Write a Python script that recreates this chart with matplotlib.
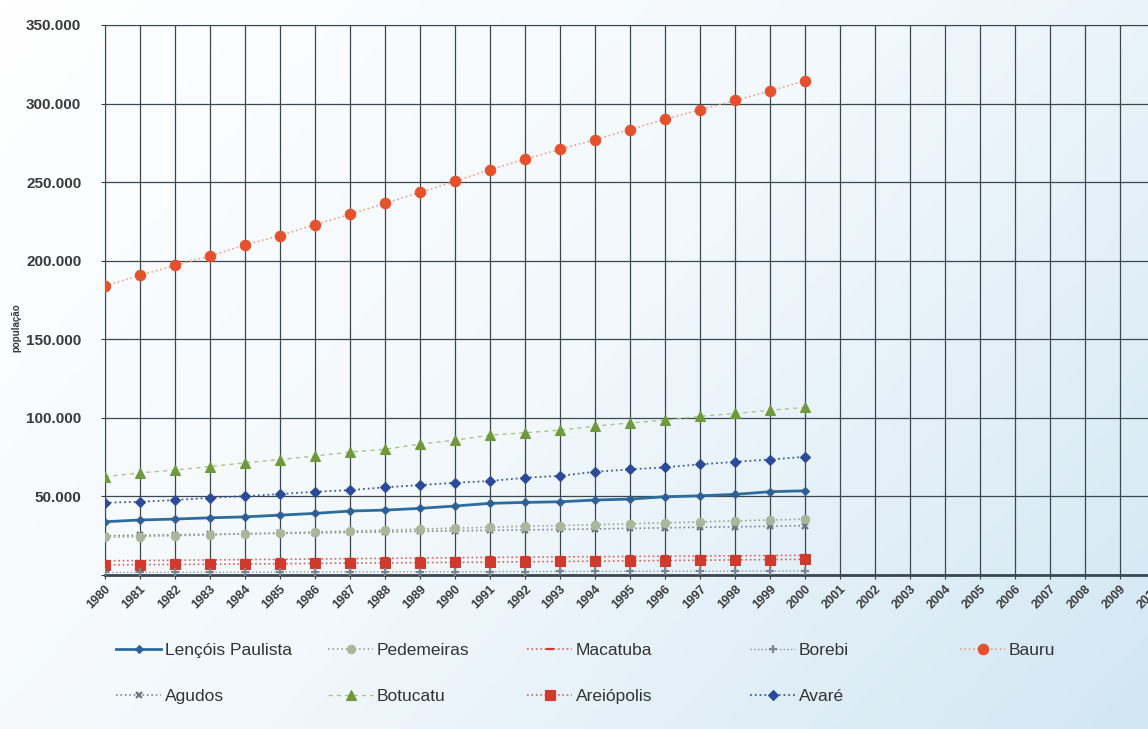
"""Population of the Bauru-region municipalities, 1980-2000, on a 1980-2010 axis."""
import numpy as np
import matplotlib
matplotlib.use("Agg")
import matplotlib.pyplot as plt
from matplotlib.colors import LinearSegmentedColormap
from matplotlib.ticker import FuncFormatter

plt.rcParams["font.family"] = ["Liberation Sans", "DejaVu Sans"]

INK, GRIDC = "#3a3a3a", "#3a4852"

years = list(range(1980, 2001))
axis_years = list(range(1980, 2011))

bauru = [184000, 190700, 197000, 203000, 210000, 216000, 223000, 229500, 236500, 243500,
         250500, 258000, 264500, 271000, 277000, 283500, 290000, 296000, 302000, 308000, 314500]
botucatu = [62500, 65000, 66800, 69000, 71400, 73500, 75700, 78200, 80000, 83300,
            85800, 89000, 90500, 92200, 94700, 96800, 98500, 101000, 102800, 104900, 106600]
avare = [46000, 46600, 47700, 49100, 50200, 51500, 53000, 54000, 55800, 57200,
         58700, 59800, 61900, 63100, 65700, 67200, 68500, 70400, 72000, 73500, 75200]
lencois = [33900, 35000, 35600, 36400, 37000, 38100, 39200, 40700, 41300, 42400,
           43900, 45600, 46200, 46600, 47700, 48300, 49800, 50400, 51300, 53000, 53600]
pedemeiras = [24000, 24500, 25000, 25600, 26200, 26800, 27400, 28000, 28600, 29200,
              29800, 30400, 31000, 31500, 32000, 32600, 33200, 33800, 34400, 35000, 35600]
agudos = [25000, 25300, 25600, 25900, 26200, 26500, 26800, 27200, 27500, 27800,
          28100, 28400, 28700, 29000, 29300, 29700, 30000, 30400, 30700, 31000, 31400]
macatuba = [9000, 9200, 9400, 9600, 9800, 10000, 10200, 10400, 10600, 10800,
            11000, 11200, 11400, 11500, 11700, 11800, 12000, 12100, 12200, 12400, 12500]
areiopolis = [6500, 6600, 6700, 6900, 7000, 7200, 7400, 7600, 7700, 7900,
              8000, 8200, 8400, 8600, 8800, 9000, 9200, 9400, 9600, 9800, 10000]
borebi = [1600, 1650, 1700, 1750, 1800, 1850, 1900, 1950, 2000, 2050,
          2100, 2150, 2200, 2250, 2300, 2350, 2400, 2450, 2500, 2550, 2600]

y_ticks = [0, 50000, 100000, 150000, 200000, 250000, 300000, 350000]

# name, values, line colour, line style, width, marker, marker face, marker size
series = [
    ("Lençóis Paulista", lencois, "#2f6c9e", "-", 2.0, "D", "#2f5f95", 4.5),
    ("Agudos", agudos, "#7d8790", ":", 1.2, "x", "#6c7680", 5),
    ("Pedemeiras", pedemeiras, "#9aa88c", ":", 1.2, "o", "#a9b79a", 6),
    ("Botucatu", botucatu, "#a9c48a", (0, (3, 3)), 1.0, "^", "#6f9a3b", 6.5),
    ("Macatuba", macatuba, "#e0605a", ":", 1.2, "_", "#d23c2f", 6),
    ("Areiópolis", areiopolis, "#d8605a", ":", 1.2, "s", "#cf3a2d", 7.5),
    ("Borebi", borebi, "#8a96a0", ":", 1.0, "+", "#7a8690", 6),
    ("Avaré", avare, "#3d5a9e", ":", 1.3, "D", "#2c4a9a", 5),
    ("Bauru", bauru, "#f0a080", ":", 1.2, "o", "#e5512c", 7.5),
]

fig = plt.figure(figsize=(11.48, 7.29), dpi=100)

# soft white -> light blue wash behind everything
bg = fig.add_axes([0, 0, 1, 1], zorder=-10)
gx, gy = np.meshgrid(np.linspace(0, 1, 300), np.linspace(1, 0, 200))
wash = np.clip(0.05 + 0.6 * gx + 0.35 * (1 - gy), 0, 1)
cmap = LinearSegmentedColormap.from_list("wash", ["#ffffff", "#f2f8fc", "#d2e7f3"])
bg.imshow(wash, cmap=cmap, aspect="auto", extent=[0, 1, 0, 1], origin="upper")
bg.axis("off")

ax = fig.add_axes([105 / 1148, 154 / 729, 1050 / 1148, 550 / 729])
ax.patch.set_alpha(0)
ax.set_xlim(1980, 2010)
ax.set_ylim(0, 350000)

for name, vals, lc, ls, lw, mk, mf, ms in series:
    ax.plot(years, vals, color=lc, linestyle=ls, linewidth=lw, marker=mk,
            markerfacecolor=mf, markeredgecolor=mf,
            markeredgewidth=1.6 if mk in "x+_" else 0.8, markersize=ms,
            label=name, zorder=3)

ax.set_xticks(axis_years)
ax.set_xticklabels([str(y) for y in axis_years], rotation=45, ha="right",
                   rotation_mode="anchor", fontsize=9, color=INK, fontweight="bold")
ax.set_yticks(y_ticks)
ax.yaxis.set_major_formatter(FuncFormatter(
    lambda v, p: "" if v == 0 else f"{int(v):,}".replace(",", ".")))
ax.tick_params(axis="y", labelsize=11, colors=INK, length=3, pad=14)
for t in ax.get_yticklabels():
    t.set_fontweight("bold")
ax.tick_params(axis="x", length=3, pad=3, colors=INK)
ax.grid(True, color=GRIDC, linewidth=0.9, zorder=1)
for s in ax.spines.values():
    s.set_color(GRIDC)
ax.spines["bottom"].set_linewidth(2.0)
ax.spines["right"].set_visible(False)
ax.set_ylabel("população", fontsize=7, color=INK, fontweight="bold", labelpad=4)
ax.yaxis.set_label_coords(-0.08, 0.45)

# legend: five columns placed by hand, two rows
handles, labels = ax.get_legend_handles_labels()
text_x = [165, 377, 576, 799, 1009]
fs = 12.5
for col in range(5):
    h = handles[2 * col:2 * col + 2]
    lab = labels[2 * col:2 * col + 2]
    leg_x = (text_x[col] - 49) / 1148
    lg = fig.legend(h, lab, loc="upper left", bbox_to_anchor=(leg_x, 1 - 643 / 729),
                    frameon=False, fontsize=fs, handlelength=2.6, handletextpad=0.2,
                    borderpad=0, borderaxespad=0, labelspacing=1.75)
    for t in lg.get_texts():
        t.set_color("#333333")

fig.savefig("out.png", dpi=100)
